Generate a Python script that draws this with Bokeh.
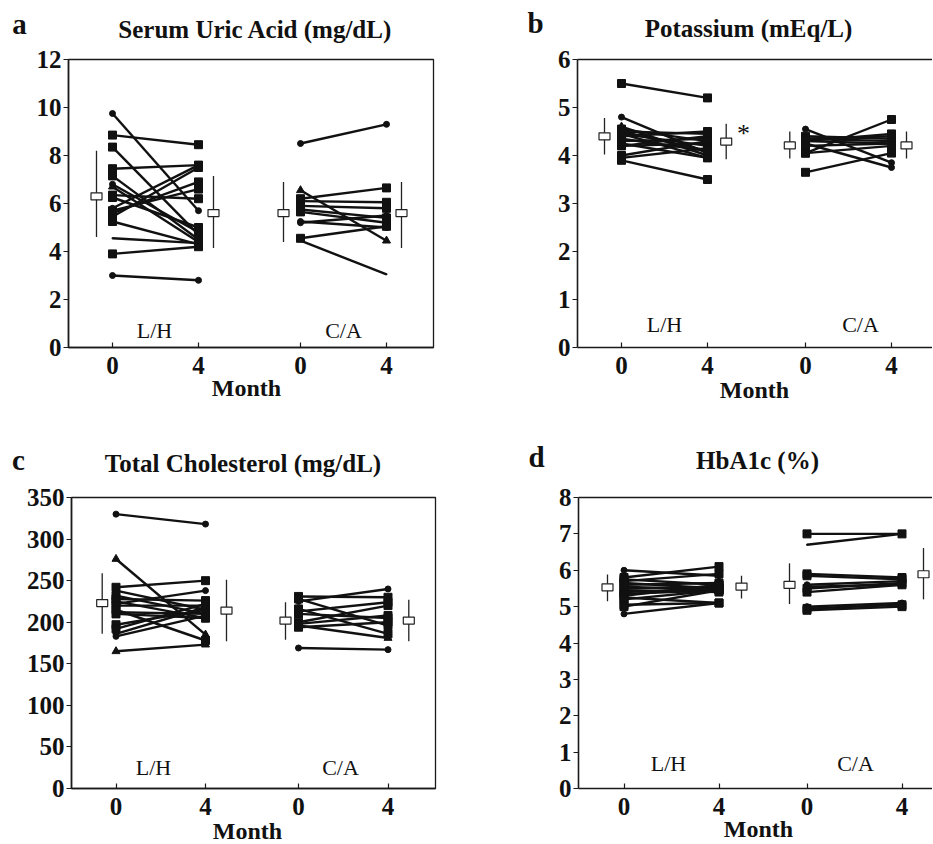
from bokeh.plotting import figure
from bokeh.models import (ColumnDataSource, Label, LinearAxis, FixedTicker, Range1d,
                          CustomJSTickFormatter)
from bokeh.layouts import column, row
from bokeh.embed import file_html
from bokeh.resources import INLINE

FONT = "Liberation Serif"

# ---------------- data ----------------
months = [0, 4]
groups = ["L/H", "C/A"]

# a) Serum uric acid (mg/dL)
ua_lh_m0 = [9.75, 8.85, 8.35, 7.45, 7.15, 6.80, 6.70, 6.35, 6.25, 5.80, 5.60, 5.45, 5.25, 4.55, 3.90, 3.00, 5.70]
ua_lh_m4 = [5.70, 8.45, 4.70, 7.60, 4.50, 4.80, 4.40, 6.20, 5.00, 7.60, 6.90, 7.50, 4.30, 4.35, 4.20, 2.80, 6.60]
ua_lh_mk = ["circle", "square", "square", "square", "square", "circle", "triangle", "square", "square",
            "circle", "square", "square", "square", "dot", "square", "circle", "square"]
ua_ca_m0 = [8.50, 6.55, 6.20, 6.10, 5.90, 5.75, 5.65, 5.25, 5.20, 4.55, 4.45]
ua_ca_m4 = [9.30, 4.45, 6.65, 6.05, 5.80, 5.40, 5.20, 5.00, 5.50, 5.05, 3.05]
ua_ca_mk = ["circle", "triangle", "square", "square", "square", "square", "square", "circle", "circle", "square", "dot"]
ua_mean = [6.30, 5.60, 5.60, 5.60]
ua_sd_lo = [4.60, 4.15, 4.40, 4.15]
ua_sd_hi = [8.20, 7.15, 6.90, 6.90]
ua_ticks = [0, 2, 4, 6, 8, 10, 12]

# b) Potassium (mEq/L)
k_lh_m0 = [5.50, 4.80, 4.60, 4.55, 4.50, 4.45, 4.45, 4.40, 4.35, 4.30, 4.25, 4.20, 4.20, 4.00, 3.95, 3.90, 4.50]
k_lh_m4 = [5.20, 4.05, 4.00, 4.30, 4.45, 3.95, 4.20, 4.50, 4.10, 4.35, 3.95, 4.25, 4.40, 4.30, 4.15, 3.50, 4.10]
k_lh_mk = ["square", "circle", "triangle", "square", "square", "circle", "square", "square", "square",
           "circle", "square", "square", "circle", "square", "square", "square", "square"]
k_ca_m0 = [4.55, 4.40, 4.35, 4.35, 4.30, 4.30, 4.25, 4.20, 4.05, 4.05, 3.65]
k_ca_m4 = [3.85, 4.35, 4.30, 4.40, 4.45, 4.25, 3.75, 4.25, 4.75, 4.20, 4.05]
k_ca_mk = ["circle", "square", "square", "square", "square", "square", "circle", "square", "square", "square", "square"]
k_mean = [4.40, 4.29, 4.21, 4.21]
k_sd_lo = [4.02, 3.92, 3.94, 3.94]
k_sd_hi = [4.78, 4.66, 4.50, 4.50]
k_ticks = [0, 1, 2, 3, 4, 5, 6]

# c) Total cholesterol (mg/dL)
tc_lh_m0 = [330, 276, 242, 238, 232, 228, 225, 222, 220, 215, 212, 210, 197, 192, 186, 183, 165]
tc_lh_m4 = [318, 185, 250, 215, 210, 226, 205, 238, 220, 178, 210, 205, 215, 222, 218, 208, 173]
tc_lh_mk = ["circle", "triangle", "square", "circle", "square", "square", "square", "circle", "square",
            "square", "circle", "square", "square", "square", "circle", "circle", "triangle"]
tc_ca_m0 = [231, 228, 225, 216, 213, 210, 200, 198, 196, 194, 169]
tc_ca_m4 = [230, 196, 240, 186, 224, 205, 220, 208, 181, 200, 167]
tc_ca_mk = ["square", "square", "circle", "square", "square", "square", "square", "square", "triangle", "square", "circle"]
tc_mean = [223, 214, 202, 202]
tc_sd_lo = [186, 177, 179, 177]
tc_sd_hi = [259, 251, 224, 227]
tc_ticks = [0, 50, 100, 150, 200, 250, 300, 350]

# d) HbA1c (%)
hb_lh_m0 = [6.00, 5.80, 5.75, 5.70, 5.65, 5.60, 5.55, 5.50, 5.45, 5.40, 5.35, 5.30, 5.25, 5.20, 5.05, 5.00, 4.80]
hb_lh_m4 = [5.85, 6.10, 5.60, 5.90, 5.50, 5.65, 5.45, 5.55, 5.40, 5.50, 5.45, 5.60, 5.10, 5.45, 5.10, 5.45, 5.10]
hb_lh_mk = ["circle", "square", "square", "square", "square", "square", "circle", "square", "square",
            "square", "square", "square", "square", "square", "square", "square", "circle"]
hb_ca_m0 = [7.00, 6.70, 5.90, 5.85, 5.60, 5.55, 5.50, 5.40, 5.00, 4.95, 4.90]
hb_ca_m4 = [7.00, 7.00, 5.80, 5.75, 5.70, 5.60, 5.65, 5.60, 5.10, 5.05, 5.00]
hb_ca_mk = ["square", "dot", "square", "square", "circle", "circle", "square", "square", "circle", "square", "square"]
hb_mean = [5.53, 5.55, 5.60, 5.89]
hb_sd_lo = [5.15, 5.22, 5.07, 5.20]
hb_sd_hi = [5.88, 5.85, 6.19, 6.61]
hb_ticks = [0, 1, 2, 3, 4, 5, 6, 7, 8]

MK_SIZE = {"square": 8, "circle": 6, "triangle": 8, "dot": 8}


def build(spec):
    fx, fy, W, H = spec["fig"]
    L, T, R, B = spec["frame"]
    lh0, lh4, ca0 = spec["xt"]
    kx = (lh4 - lh0) / 4.0
    y0, y1 = spec["ylim"]

    def X(px):
        return (px - lh0) / kx

    def Y(py):
        return y0 + (B - py) / (B - T) * (y1 - y0)

    ca_off = X(ca0)
    p = figure(width=W, height=H, x_range=Range1d(X(L), X(R)), y_range=Range1d(y0, y1),
               output_backend="svg", toolbar_location=None,
               x_axis_type=None, y_axis_type=None,
               min_border_left=L - fx, min_border_right=(fx + W) - R,
               min_border_top=T - fy, min_border_bottom=(fy + H) - B)
    p.background_fill_color = "white"
    p.border_fill_color = "white"
    if spec["closed"]:
        p.outline_line_color = "#1a1a1a"
        p.outline_line_width = 1.3
    else:
        p.outline_line_color = None
        top = LinearAxis(ticker=FixedTicker(ticks=[]), axis_line_width=1.3, axis_line_color="#1a1a1a",
                         major_tick_line_color=None, minor_tick_line_color=None,
                         major_label_text_font_size="0px")
        p.add_layout(top, "above")

    xticks = [m for m in months] + [m + ca_off for m in months]
    xaxis = LinearAxis(ticker=FixedTicker(ticks=xticks),
                       formatter=CustomJSTickFormatter(args=dict(off=ca_off), code="""
                           var v = tick > off / 2 + 2 ? tick - off : tick;
                           return String(Math.round(v));"""))
    yaxis = LinearAxis(ticker=FixedTicker(ticks=spec["yticks"]))
    for ax in (xaxis, yaxis):
        ax.axis_line_width = 1.6
        ax.axis_line_color = "#1a1a1a"
        ax.major_tick_line_color = "#1a1a1a"
        ax.major_tick_line_width = 1.2
        ax.minor_tick_line_color = None
        ax.major_label_text_font = FONT
        ax.major_label_text_font_style = "bold"
        ax.major_label_text_font_size = "25px"
        ax.major_label_text_color = "#111111"
    xaxis.major_tick_in = 5
    xaxis.major_tick_out = 0
    xaxis.major_label_standoff = 9
    yaxis.major_tick_in = 0
    yaxis.major_tick_out = 5
    yaxis.major_label_standoff = 2
    p.add_layout(xaxis, "below")
    p.add_layout(yaxis, "left")

    # individual subject lines
    for off, m0, m4, mk in ((0.0, spec["lh"][0], spec["lh"][1], spec["lh"][2]),
                            (ca_off, spec["ca"][0], spec["ca"][1], spec["ca"][2])):
        n = len(m0)
        src = ColumnDataSource(dict(x0=[months[0] + off] * n, x1=[months[1] + off] * n,
                                    y0=m0, y1=m4, mk=mk, sz=[MK_SIZE[m] for m in mk]))
        p.segment(x0="x0", y0="y0", x1="x1", y1="y1", source=src, line_color="#111111", line_width=2.4)
        p.scatter(x="x0", y="y0", marker="mk", size="sz", source=src, fill_color="#111111", line_color="#111111")
        p.scatter(x="x1", y="y1", marker="mk", size="sz", source=src, fill_color="#111111", line_color="#111111")

    # mean +- SD
    mx = [X(v) for v in spec["means_x"]]
    msrc = ColumnDataSource(dict(x=mx, m=spec["mean"], lo=spec["lo"], hi=spec["hi"]))
    p.segment(x0="x", y0="lo", x1="x", y1="hi", source=msrc, line_color="#222222", line_width=1.3)
    p.rect(x="x", y="m", width=11, height=7, width_units="screen", height_units="screen",
           source=msrc, fill_color="white", line_color="#222222", line_width=1.2)

    def lab(xy, text, size, style="bold", side="center"):
        lbl = Label(x=X(xy[0]), y=Y(xy[1]), text=text, text_font=FONT,
                    text_font_style=style, text_font_size=size, text_color="#111111",
                    text_align="center", text_baseline="middle")
        p.add_layout(lbl, side)

    # texts outside the frame live in side panels (not clipped), placed in data coordinates
    lab(spec["letter"], spec["name"], "29px", side="above")
    lab(spec["title_xy"], spec["title"], "25px", side="above")
    lab(spec["month_xy"], "Month", "24px", side="below")
    lab(spec["grp_xy"][0], groups[0], "22px", style="normal")
    lab(spec["grp_xy"][1], groups[1], "22px", style="normal")
    if "star" in spec:
        lab(spec["star"], "*", "26px", style="normal")
    return p


DY = 0
spec_a = dict(name="a", title="Serum Uric Acid (mg/dL)", closed=True,
              fig=(0, 0, 460, 420), frame=(68, 57, 433, 347), ylim=(0, 12), yticks=ua_ticks,
              xt=(112, 198, 300), means_x=(96, 213, 283, 401),
              letter=(19, 21), title_xy=(255, 27), month_xy=(246, 388),
              grp_xy=((154, 330), (343, 330)),
              lh=(ua_lh_m0, ua_lh_m4, ua_lh_mk), ca=(ua_ca_m0, ua_ca_m4, ua_ca_mk),
              mean=ua_mean, lo=ua_sd_lo, hi=ua_sd_hi)
spec_b = dict(name="b", title="Potassium (mEq/L)", closed=False,
              fig=(460, 0, 472, 420), frame=(577, 57, 932, 351), ylim=(0, 6), yticks=k_ticks,
              xt=(621, 707, 805), means_x=(604, 725.7, 789.3, 906),
              letter=(535, 20), title_xy=(748, 25), month_xy=(754, 394),
              grp_xy=((664, 328), (860, 328)), star=(743, 133),
              lh=(k_lh_m0, k_lh_m4, k_lh_mk), ca=(k_ca_m0, k_ca_m4, k_ca_mk),
              mean=k_mean, lo=k_sd_lo, hi=k_sd_hi)
spec_c = dict(name="c", title="Total Cholesterol (mg/dL)", closed=True,
              fig=(0, 420, 460, 423), frame=(71, 494 - DY, 435, 788 - DY), ylim=(0, 350), yticks=tc_ticks,
              xt=(115.5, 205, 298), means_x=(101.7, 226, 285, 408.3),
              letter=(18, 456 - DY), title_xy=(242.5, 460 - DY), month_xy=(247, 831 - DY),
              grp_xy=((153, 767 - DY), (340, 767 - DY)),
              lh=(tc_lh_m0, tc_lh_m4, tc_lh_mk), ca=(tc_ca_m0, tc_ca_m4, tc_ca_mk),
              mean=tc_mean, lo=tc_sd_lo, hi=tc_sd_hi)
spec_d = dict(name="d", title="HbA1c (%)", closed=False,
              fig=(460, 420, 472, 423), frame=(578, 497 - DY, 932, 788 - DY), ylim=(0, 8), yticks=hb_ticks,
              xt=(623.5, 718.5, 806.5), means_x=(607, 741, 789, 923),
              letter=(536, 456 - DY), title_xy=(757, 460 - DY), month_xy=(758, 828 - DY),
              grp_xy=((668, 763 - DY), (855, 763 - DY)),
              lh=(hb_lh_m0, hb_lh_m4, hb_lh_mk), ca=(hb_ca_m0, hb_ca_m4, hb_ca_mk),
              mean=hb_mean, lo=hb_sd_lo, hi=hb_sd_hi)

pa, pb, pc, pd = (build(s) for s in (spec_a, spec_b, spec_c, spec_d))
layout = column(row(pa, pb), row(pc, pd))

open("out.html", "w").write(file_html(layout, INLINE))
